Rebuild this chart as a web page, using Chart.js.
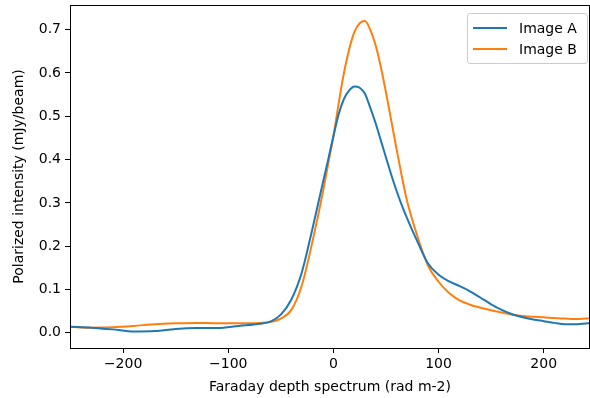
<!DOCTYPE html>
<html>
<head>
<meta charset="utf-8">
<script src="https://cdn.jsdelivr.net/npm/chart.js@4/dist/chart.umd.min.js"></script>
<style>
  html, body { margin: 0; padding: 0; background: #fff; }
  #wrap { position: relative; width: 590px; height: 398px; }
  #legend {
    position: absolute; left: 467px; top: 13px; width: 121px; height: 51px;
    border: 1px solid #cccccc; border-radius: 3px; background: rgba(255,255,255,0.8);
    font-family: "DejaVu Sans", sans-serif; font-size: 14px; color: #000; box-sizing: border-box;
  }
  .item { position: absolute; left: 5px; height: 20px; display: flex; align-items: center; }
  .sw { width: 34px; height: 2px; margin-right: 12px; }
</style>
</head>
<body>
<div id="wrap">
  <canvas id="c" width="590" height="398"></canvas>
  <div id="legend"></div>
</div>
<script>
const depth = [-250,-230,-210,-190,-170,-150,-130,-110,-90,-70,-60,-50,-40,-30,-20,-10,-5,0,5,10,15,20,25,30,35,40,45,50,55,60,65,70,80,90,100,110,120,130,140,150,160,170,180,190,200,210,220,230,245];
const imageA = [0.014,0.012,0.008,0.003,0.004,0.009,0.011,0.011,0.016,0.021,0.026,0.042,0.077,0.14,0.24,0.347,0.40,0.454,0.505,0.54,0.56,0.569,0.566,0.552,0.52,0.485,0.445,0.405,0.365,0.328,0.295,0.265,0.21,0.16,0.134,0.119,0.108,0.096,0.081,0.066,0.053,0.043,0.036,0.031,0.027,0.023,0.020,0.020,0.023];
const imageB = [0.014,0.012,0.013,0.016,0.020,0.022,0.023,0.022,0.022,0.023,0.025,0.033,0.053,0.11,0.21,0.325,0.39,0.454,0.53,0.60,0.655,0.695,0.715,0.72,0.70,0.665,0.615,0.555,0.49,0.425,0.362,0.305,0.222,0.155,0.118,0.092,0.075,0.065,0.058,0.052,0.047,0.042,0.039,0.037,0.036,0.034,0.033,0.032,0.034];
const xTicks = [-200,-100,0,100,200];
const yTicks = [0.0,0.1,0.2,0.3,0.4,0.5,0.6,0.7];
const seriesNames = ["Image A","Image B"];
const seriesColors = ["#1f77b4","#ff7f0e"];

const FONT = "'DejaVu Sans', sans-serif";
const mk = (vals) => depth.map((x,i) => ({x: x, y: vals[i]}));

const frame = {
  id: 'frame',
  afterDraw(chart) {
    const {ctx, chartArea: a} = chart;
    ctx.save();
    ctx.strokeStyle = '#000';
    ctx.lineWidth = 1;
    ctx.strokeRect(Math.round(a.left)+0.5, Math.round(a.top)+0.5, Math.round(a.right-a.left)-1, Math.round(a.bottom-a.top));
    ctx.restore();
  }
};

new Chart(document.getElementById('c'), {
  type: 'line',
  data: {
    datasets: [
      {label: seriesNames[0], data: mk(imageA), borderColor: seriesColors[0], borderWidth: 2, pointRadius: 0, cubicInterpolationMode: 'monotone', fill: false},
      {label: seriesNames[1], data: mk(imageB), borderColor: seriesColors[1], borderWidth: 2, pointRadius: 0, cubicInterpolationMode: 'monotone', fill: false}
    ]
  },
  options: {
    responsive: false,
    animation: false,
    layout: {padding: {top: 5, right: 0, left: 0, bottom: 0}},
    plugins: {legend: {display: false}, tooltip: {enabled: false}},
    scales: {
      x: {
        type: 'linear', min: -250.5, max: 244,
        afterBuildTicks: s => { s.ticks = xTicks.map(v => ({value: v})); },
        afterFit: s => { s.height = 50; s.paddingLeft = 0; s.paddingRight = 0; },
        grid: {drawOnChartArea: false, drawTicks: true, tickLength: 5, tickColor: '#000'},
        border: {display: false},
        ticks: {color: '#000', padding: 3, maxRotation: 0, font: {family: FONT, size: 14},
                callback: v => String(v).replace('-', '\u2212')},
        title: {display: true, text: 'Faraday depth spectrum (rad m-2)', color: '#000', font: {family: FONT, size: 14}, padding: {top: 0, bottom: 2}}
      },
      y: {
        type: 'linear', min: -0.035, max: 0.757,
        afterBuildTicks: s => { s.ticks = yTicks.map(v => ({value: v})); },
        afterFit: s => { s.width = 70; s.paddingTop = 0; s.paddingBottom = 0; },
        grid: {drawOnChartArea: false, drawTicks: true, tickLength: 5, tickColor: '#000'},
        border: {display: false},
        ticks: {color: '#000', padding: 4, font: {family: FONT, size: 14},
                callback: v => Number(v).toFixed(1)},
        title: {display: true, text: 'Polarized intensity (mJy/beam)', color: '#000', font: {family: FONT, size: 14}, padding: {top: 11, bottom: 0}}
      }
    }
  },
  plugins: [frame]
});

const lg = document.getElementById('legend');
seriesNames.forEach((n, i) => {
  const d = document.createElement('div');
  d.className = 'item';
  d.style.top = (4 + i * 21) + 'px';
  d.innerHTML = '<span class="sw" style="background:' + seriesColors[i] + '"></span><span>' + n + '</span>';
  lg.appendChild(d);
});
</script>
</body>
</html>
